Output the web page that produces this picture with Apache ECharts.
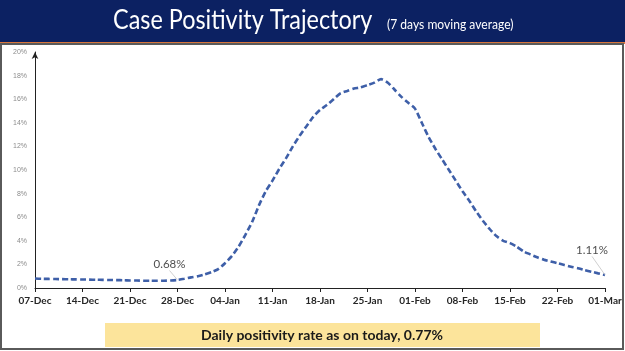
<!DOCTYPE html>
<html>
<head>
<meta charset="utf-8">
<script src="https://cdn.jsdelivr.net/npm/echarts@6/dist/echarts.min.js"></script>
<style>
html,body{margin:0;padding:0;background:#fff;}
#chart{width:625px;height:351px;}
</style>
</head>
<body>
<div id="chart"></div>
<script>
// 7 days moving average, one value per day from 07-Dec to 01-Mar
var startDay = new Date(2020, 11, 7);
var monthNames = ['Jan','Feb','Mar','Apr','May','Jun','Jul','Aug','Sep','Oct','Nov','Dec'];
var positivity = [
	0.80, 0.78, 0.77, 0.76, 0.75, 0.74, 0.73, 0.72, 0.71, 0.70,
	0.69, 0.68, 0.67, 0.66, 0.64, 0.63, 0.62, 0.62, 0.61, 0.62,
	0.64, 0.68, 0.78, 0.90, 1.00, 1.15, 1.35, 1.60, 2.10, 2.70,
	3.50, 4.50, 5.60, 7.00, 8.20, 9.10, 10.1, 11.0, 12.0, 12.9,
	13.7, 14.5, 15.1, 15.5, 16.0, 16.5, 16.7, 16.9, 17.0, 17.2,
	17.4, 17.7, 17.4, 16.8, 16.2, 15.7, 15.2, 14.0, 12.8, 11.8,
	10.9, 10.0, 9.10, 8.20, 7.40, 6.50, 5.70, 5.00, 4.40, 4.00,
	3.80, 3.50, 3.10, 2.85, 2.60, 2.40, 2.25, 2.10, 1.95, 1.80,
	1.68, 1.52, 1.38, 1.24, 1.11
];
// which points carry a value label
var labelledDays = [21, 84];
var labelShift = {21: [-8, -4], 84: [-13, -13]};
var headline = 'Case Positivity Trajectory';
var subline = '(7 days moving average)';
var footNote = 'Daily positivity rate as on today, 0.77%';

function dayLabel(i){
	var d = new Date(startDay.getTime());
	d.setDate(d.getDate() + i);
	var dd = d.getDate() < 10 ? '0' + d.getDate() : '' + d.getDate();
	return dd + '-' + monthNames[d.getMonth()];
}
var days = [];
for (var i = 0; i < positivity.length; i++) {
	days.push(dayLabel(i));
}

var seriesData = positivity.map(function(v, i){
	if (labelledDays.indexOf(i) >= 0) {
		return {
			value: v,
			symbol: 'circle',
			symbolSize: 1,
			label: {show: true}
		};
	}
	return v;
});

var chart = echarts.init(document.getElementById('chart'));
chart.setOption({
	animation: false,
	backgroundColor: '#fff',
	grid: {left: 35, right: 20, top: 52, bottom: 63, containLabel: false},
	xAxis: {
		type: 'category',
		data: days,
		boundaryGap: false,
		axisLine: {lineStyle: {color: '#222', width: 1}},
		axisTick: {interval: 6, length: 4, lineStyle: {color: '#222'}},
		axisLabel: {
			interval: 6,
			margin: 8,
			color: '#262626',
			fontSize: 10,
			fontWeight: 'bold',
			fontFamily: 'Lato'
		},
		splitLine: {show: false}
	},
	yAxis: {
		type: 'value',
		min: 0,
		max: 20,
		interval: 2,
		axisLine: {show: true, symbol: ['none', 'arrow'], symbolSize: [5, 7], lineStyle: {color: '#222', width: 1}},
		axisTick: {show: false},
		axisLabel: {
			formatter: '{value}%',
			color: '#8c8c8c',
			fontSize: 7,
			margin: 8,
			fontFamily: 'Liberation Sans'
		},
		splitLine: {show: false}
	},
	series: [{
		type: 'line',
		data: seriesData,
		symbol: 'none',
		showAllSymbol: true,
		smooth: 0.2,
		lineStyle: {color: '#3E5FA8', width: 2.6, type: [6, 3]},
		itemStyle: {color: 'rgba(0,0,0,0)'},
		label: {
			show: false,
			position: 'top',
			formatter: '{c}%',
			color: '#4f4f4f',
			fontSize: 11.5,
			fontFamily: 'Lato'
		},
		labelLayout: function(p){
			var s = labelShift[p.dataIndex] || [0, 0];
			return {dx: s[0], dy: s[1]};
		},
		labelLine: {show: true, lineStyle: {color: '#d0d0d0', width: 1}}
	}],
	graphic: [
		{type: 'rect', z: 10, shape: {x: 0, y: 0, width: 625, height: 42}, style: {fill: '#0C2162'}},
		{type: 'rect', z: 10, shape: {x: 0, y: 42, width: 625, height: 2}, style: {fill: '#D9763C'}},
		{type: 'rect', z: 10, shape: {x: 1, y: 44, width: 622, height: 305}, style: {fill: 'none', stroke: '#5a5a5a', lineWidth: 2}},
		{type: 'text', z: 11, x: 113, y: 21, scaleX: 0.9, style: {text: headline, fill: '#fff', font: '26px Lato', verticalAlign: 'middle'}},
		{type: 'text', z: 11, x: 387, y: 25, scaleX: 0.93, style: {text: subline, fill: '#fff', font: '13px Lato', verticalAlign: 'middle'}},
		{type: 'rect', z: 10, shape: {x: 105, y: 323, width: 435, height: 24}, style: {fill: '#FCE49B'}},
		{type: 'text', z: 11, x: 322, y: 335, style: {text: footNote, fill: '#1a1a1a', font: 'bold 14px Lato', align: 'center', verticalAlign: 'middle'}}
	]
});
</script>
</body>
</html>
